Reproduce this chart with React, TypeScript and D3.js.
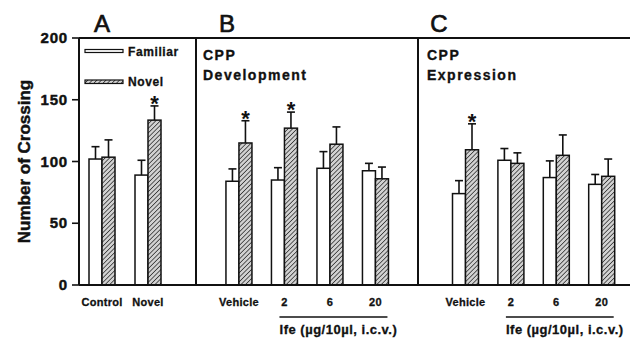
import React from "react";
import * as d3 from "d3";

// panel A
const aCats = ["Control", "Novel"];
const aFamiliar = [102, 89];
const aFamiliarErr = [10, 12];
const aNovel = [103.5, 133.5];
const aNovelErr = [14, 11.5];
const aStar = [false, true];

// panel B - CPP development
const doseCats = ["Vehicle", "2", "6", "20"];
const bFamiliar = [84, 85, 94.5, 92.5];
const bFamiliarErr = [10, 10, 13.5, 6];
const bNovel = [115, 127, 114, 86];
const bNovelErr = [18, 13, 14, 9.5];
const bStar = [true, true, false, false];

// panel C - CPP expression
const cFamiliar = [74, 101, 87, 81.5];
const cFamiliarErr = [10.5, 9.5, 13.5, 8];
const cNovel = [109.5, 98.5, 105, 88];
const cNovelErr = [21, 8.5, 16.5, 14];
const cStar = [true, false, false, false];

const yTicks = [0, 50, 100, 150, 200];

const FONT = "'Liberation Sans', Arial, Helvetica, sans-serif";

const W = 630, H = 342;
const left = 79, right = 630, top = 38, bottom = 285;
const div1 = 196, div2 = 418;
const barW = 13;

const y = d3.scaleLinear().domain([0, 200]).range([bottom, top]);

type Panel = {
  cats: string[];
  fam: number[];
  famErr: number[];
  nov: number[];
  novErr: number[];
  star: boolean[];
  x: d3.ScaleBand<string>;
};

const panels: Panel[] = [
  { cats: aCats, fam: aFamiliar, famErr: aFamiliarErr, nov: aNovel, novErr: aNovelErr, star: aStar,
    x: d3.scaleBand<string>().domain(aCats).range([79, 171]) },
  { cats: doseCats, fam: bFamiliar, famErr: bFamiliarErr, nov: bNovel, novErr: bNovelErr, star: bStar,
    x: d3.scaleBand<string>().domain(doseCats).range([216.2, 398.2]) },
  { cats: doseCats, fam: cFamiliar, famErr: cFamiliarErr, nov: cNovel, novErr: cNovelErr, star: cStar,
    x: d3.scaleBand<string>().domain(doseCats).range([442.8, 624.4]) },
];

// heavy text look of the scanned figure
const heavy = { stroke: "#111", strokeWidth: 0.45 };

function ErrBar({ cx, v, e }: { cx: number; v: number; e: number }) {
  return (
    <g stroke="#111" strokeWidth={1.6}>
      <line x1={cx} x2={cx} y1={y(v)} y2={y(v + e)} />
      <line x1={cx - 4} x2={cx + 4} y1={y(v + e)} y2={y(v + e)} />
    </g>
  );
}

export default function App() {
  const center = (p: Panel, c: string) => (p.x(c) as number) + p.x.bandwidth() / 2;
  return (
    <svg width={W} height={H} style={{ position: "absolute", left: 0, top: 0, background: "#fff" }}
      fontFamily={FONT}>
      <defs>
        <pattern id="hatch" patternUnits="userSpaceOnUse" width={3.2} height={3.2}
          patternTransform="rotate(45)">
          <rect width={3.2} height={3.2} fill="#d2d2d2" />
          <line x1={0} y1={0} x2={0} y2={3.2} stroke="#222" strokeWidth={1.4} />
        </pattern>
      </defs>

      {/* panel letters */}
      <g fontSize={24} textAnchor="middle" fill="#111" stroke="#111" strokeWidth={0.7}>
        <text x={102} y={32}>A</text>
        <text x={227} y={32}>B</text>
        <text x={439} y={32}>C</text>
      </g>

      {/* y axis */}
      {yTicks.map((t) => (
        <g key={t}>
          <line x1={left - 7} x2={left} y1={y(t)} y2={y(t)} stroke="#111" strokeWidth={1.6} />
          <text x={68} y={y(t) + 5} fontSize={15} fontWeight="bold" textAnchor="end"
            letterSpacing={0.8} fill="#111" {...heavy}>{t}</text>
        </g>
      ))}
      <text transform={`translate(30,${(top + bottom) / 2}) rotate(-90)`} fontSize={17}
        fontWeight="bold" textAnchor="middle" fill="#111" {...heavy}>Number of Crossing</text>

      {/* bars */}
      {panels.map((p, pi) => (
        <g key={pi}>
          {p.cats.map((c, i) => {
            const cx = center(p, c);
            return (
              <g key={c}>
                <rect x={cx - barW} y={y(p.fam[i])} width={barW} height={bottom - y(p.fam[i])}
                  fill="#fff" stroke="#111" strokeWidth={1.5} />
                <rect x={cx} y={y(p.nov[i])} width={barW} height={bottom - y(p.nov[i])}
                  fill="url(#hatch)" stroke="#111" strokeWidth={1.5} />
                <ErrBar cx={cx - barW / 2} v={p.fam[i]} e={p.famErr[i]} />
                <ErrBar cx={cx + barW / 2} v={p.nov[i]} e={p.novErr[i]} />
                {p.star[i] && (
                  <text x={cx + barW / 2} y={y(p.nov[i] + p.novErr[i]) + 5} fontSize={22}
                    fontWeight="bold" textAnchor="middle" fill="#111">*</text>
                )}
                <text x={cx} y={306} fontSize={11} fontWeight="bold" textAnchor="middle"
                  letterSpacing={0.3} fill="#111" {...heavy} strokeWidth={0.3}>{c}</text>
              </g>
            );
          })}
        </g>
      ))}

      {/* frame */}
      <g stroke="#111" strokeWidth={2} fill="none">
        <line x1={left} x2={right} y1={top} y2={top} />
        <line x1={left} x2={right} y1={bottom} y2={bottom} />
        <line x1={left} x2={left} y1={top} y2={bottom} />
        <line x1={div1} x2={div1} y1={top} y2={bottom} />
        <line x1={div2} x2={div2} y1={top} y2={bottom} />
      </g>

      {/* legend */}
      <rect x={85} y={49.5} width={38} height={3} fill="#fff" stroke="#111" strokeWidth={1.2} />
      <text x={128} y={56} fontSize={12} fontWeight="bold" letterSpacing={0.6} fill="#111"
        {...heavy} strokeWidth={0.3}>Familiar</text>
      <rect x={85} y={80} width={38} height={3.5} fill="url(#hatch)" stroke="#111" strokeWidth={1.2} />
      <text x={128} y={86} fontSize={12} fontWeight="bold" letterSpacing={0.6} fill="#111"
        {...heavy} strokeWidth={0.3}>Novel</text>

      {/* panel titles */}
      <g fontSize={14} fontWeight="bold" letterSpacing={1.5} fill="#111" stroke="#111" strokeWidth={0.35}>
        <text x={203} y={60}>CPP</text>
        <text x={203} y={80}>Development</text>
        <text x={427} y={60}>CPP</text>
        <text x={427} y={80}>Expression</text>
      </g>

      {/* dose brackets */}
      {panels.slice(1).map((p, pi) => {
        const x1 = center(p, "2") - 5;
        const x2 = center(p, "20") + 12;
        return (
          <g key={pi}>
            <line x1={x1} x2={x2} y1={317} y2={317} stroke="#111" strokeWidth={1.3} />
            <text x={(x1 + x2) / 2 + 5} y={334} fontSize={13} fontWeight="bold" textAnchor="middle"
              letterSpacing={0.5} fill="#111" {...heavy} strokeWidth={0.3}>Ife (µg/10µl, i.c.v.)</text>
          </g>
        );
      })}
    </svg>
  );
}
